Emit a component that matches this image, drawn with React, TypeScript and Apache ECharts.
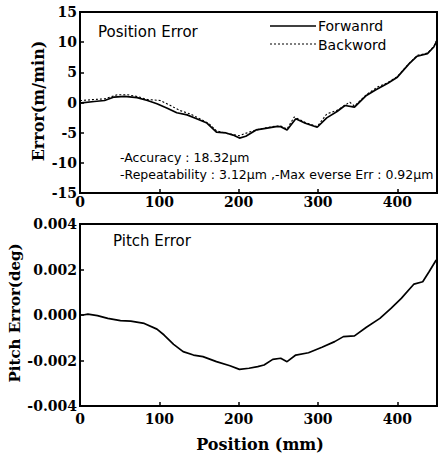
import React, { useEffect, useRef } from "react";
import * as echarts from "echarts";

const posTicks = [0, 100, 200, 300, 400];
const fwdX = [0, 2, 18, 31, 43, 56, 72, 85, 97, 110, 122, 135, 147, 160, 172, 184, 193, 201, 209, 222, 234, 247, 253, 261, 272, 284, 299, 311, 324, 334, 346, 361, 373, 388, 400, 415, 425, 438, 446, 450];
const fwdY = [0, -0.05, 0.17, 0.33, 0.9, 1.0, 0.8, 0.33, -0.2, -0.95, -1.7, -2.05, -2.7, -3.4, -4.9, -5.05, -5.4, -5.9, -5.6, -4.55, -4.3, -4.0, -4.0, -4.55, -2.7, -3.45, -4.1, -2.55, -1.5, -0.5, -0.78, 1.17, 2.1, 3.2, 4.2, 6.45, 7.67, 8.1, 9.2, 10.3];
const bwdX = [0, 2, 18, 31, 47, 60, 72, 85, 101, 114, 126, 139, 151, 163, 172, 188, 201, 213, 224, 234, 247, 253, 261, 270, 284, 299, 311, 324, 340, 346, 361, 375, 388, 400, 415, 425, 438, 446, 450];
const bwdY = [0.3, 0.33, 0.5, 0.6, 1.28, 1.28, 1.0, 0.5, 0.33, -0.5, -1.33, -1.9, -2.7, -3.55, -4.7, -5.2, -5.5, -4.9, -4.5, -4.2, -3.9, -3.9, -4.4, -2.4, -3.3, -4.0, -1.9, -1.3, 0.05, -0.6, 1.3, 2.55, 3.3, 4.3, 6.5, 7.8, 8.2, 9.3, 10.4];
const pitchX = [0, 4, 10, 22, 35, 51, 64, 81, 97, 106, 118, 130, 143, 155, 172, 189, 201, 213, 224, 232, 243, 253, 261, 272, 288, 305, 321, 332, 346, 361, 378, 392, 405, 421, 432, 440, 449];
const pitchY = [0, 0, 0.00004, -0.00003, -0.00015, -0.00025, -0.00027, -0.00037, -0.00062, -0.00088, -0.00129, -0.00161, -0.00176, -0.00183, -0.00205, -0.00223, -0.00239, -0.00234, -0.00227, -0.0022, -0.00195, -0.0019, -0.00205, -0.00176, -0.00166, -0.00142, -0.00117, -0.00095, -0.00092, -0.00054, -0.00015, 0.00029, 0.00073, 0.00136, 0.00146, 0.0019, 0.00242];

const seriesNames = ["Forwanrd", "Backword", "Pitch"];
const notes = ["-Accuracy : 18.32\u03bcm", "-Repeatability : 3.12\u03bcm ,-Max everse Err : 0.92\u03bcm"];
const panelTitles = ["Position Error", "Pitch Error"];
const axisTitles = ["Error(m/min)", "Pitch Error(deg)", "Position (mm)"];

const zip = (xs: number[], ys: number[]) => xs.map((x, i) => [x, ys[i]]);

const serifLabel = { color: "#000", fontFamily: "DejaVu Serif", fontWeight: "bold" as const, fontSize: 14 };
const sans = "'DejaVu Sans'";

export default function App() {
  const ref = useRef<HTMLDivElement>(null);
  useEffect(() => {
    if (!ref.current) return;
    const chart = echarts.init(ref.current, undefined, { renderer: "svg" });
    const axisLine = { show: true, onZero: false, lineStyle: { color: "#000", width: 2 } };
    const axisTick = { show: true, inside: true, length: 4, lineStyle: { color: "#000", width: 1.5 } };
    const xAx = (gi: number, margin: number) => ({
      type: "value" as const, gridIndex: gi, min: 0, max: 450, interval: 100,
      axisLine, axisTick, splitLine: { show: false },
      axisLabel: { ...serifLabel, margin, formatter: (v: number) => (posTicks.includes(v) ? String(v) : "") },
    });
    chart.setOption({
      animation: false,
      backgroundColor: "#fff",
      grid: [
        { left: 80, top: 12, width: 361, height: 181, show: true, borderColor: "#000", borderWidth: 2 },
        { left: 80, top: 224, width: 361, height: 182, show: true, borderColor: "#000", borderWidth: 2 },
      ],
      xAxis: [xAx(0, 2), xAx(1, 6)],
      yAxis: [
        {
          type: "value", gridIndex: 0, min: -15, max: 15, interval: 5,
          axisLine, axisTick, splitLine: { show: false },
          axisLabel: { ...serifLabel, margin: 3 },
        },
        {
          type: "value", gridIndex: 1, min: -0.004, max: 0.004, interval: 0.002,
          axisLine, axisTick, splitLine: { show: false },
          axisLabel: { ...serifLabel, margin: 3, formatter: (v: number) => v.toFixed(3) },
        },
      ],
      series: [
        {
          name: seriesNames[0], type: "line", xAxisIndex: 0, yAxisIndex: 0, data: zip(fwdX, fwdY),
          showSymbol: false, symbol: "none", lineStyle: { color: "#000", width: 1.7 }, z: 3,
        },
        {
          name: seriesNames[1], type: "line", xAxisIndex: 0, yAxisIndex: 0, data: zip(bwdX, bwdY),
          showSymbol: false, symbol: "none", lineStyle: { color: "#000", width: 1.1, type: [2, 2] }, z: 2,
        },
        {
          name: seriesNames[2], type: "line", xAxisIndex: 1, yAxisIndex: 1, data: zip(pitchX, pitchY),
          showSymbol: false, symbol: "none", lineStyle: { color: "#000", width: 1.7 },
        },
      ],
      graphic: [
        { type: "text", x: 98, y: 32, style: { text: panelTitles[0], font: `15px ${sans}`, fill: "#000", textVerticalAlign: "middle" } },
        { type: "text", x: 113, y: 241, style: { text: panelTitles[1], font: `15px ${sans}`, fill: "#000", textVerticalAlign: "middle" } },
        { type: "line", shape: { x1: 270, y1: 26, x2: 316, y2: 26 }, style: { stroke: "#000", lineWidth: 1.5 } },
        { type: "line", shape: { x1: 270, y1: 44, x2: 316, y2: 44 }, style: { stroke: "#000", lineWidth: 1.1, lineDash: [2, 2] } },
        { type: "text", x: 318, y: 26, style: { text: seriesNames[0], font: `14px ${sans}`, fill: "#000", textVerticalAlign: "middle" } },
        { type: "text", x: 318, y: 45, style: { text: seriesNames[1], font: `14px ${sans}`, fill: "#000", textVerticalAlign: "middle" } },
        { type: "text", x: 120, y: 157, style: { text: notes[0], font: `12.5px ${sans}`, fill: "#000", textVerticalAlign: "middle" } },
        { type: "text", x: 120, y: 174, style: { text: notes[1], font: `12.5px ${sans}`, fill: "#000", textVerticalAlign: "middle" } },
        { type: "text", x: 38, y: 101, rotation: Math.PI / 2, style: { text: axisTitles[0], font: "bold 16px 'DejaVu Serif'", fill: "#000", textAlign: "center", textVerticalAlign: "middle" } },
        { type: "text", x: 15, y: 313, rotation: Math.PI / 2, style: { text: axisTitles[1], font: "bold 15px 'DejaVu Serif'", fill: "#000", textAlign: "center", textVerticalAlign: "middle" } },
        { type: "text", x: 260, y: 444, style: { text: axisTitles[2], font: "bold 16px 'DejaVu Serif'", fill: "#000", textAlign: "center", textVerticalAlign: "middle" } },
      ],
    });
    return () => chart.dispose();
  }, []);
  return <div ref={ref} style={{ position: "fixed", left: 0, top: 0, width: 440, height: 455 }} />;
}
